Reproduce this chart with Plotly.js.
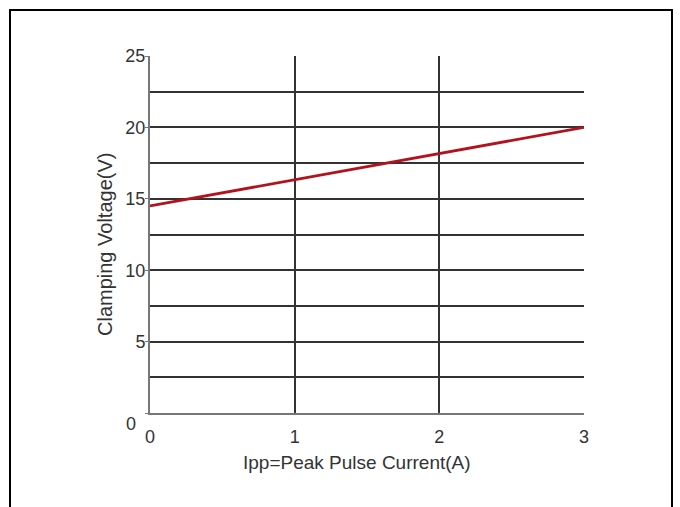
<!DOCTYPE html>
<html>
<head>
<meta charset="utf-8">
<script src="https://cdn.plot.ly/plotly-3.0.1.min.js"></script>
<style>
html,body{margin:0;padding:0;background:#fff;}
#wrap{position:relative;width:680px;height:507px;overflow:hidden;}
#chart{width:680px;height:507px;}
#frame{position:absolute;left:9px;top:9px;width:660px;height:520px;border:2px solid #000;pointer-events:none;}
</style>
</head>
<body>
<div id="wrap"><div id="chart"></div><div id="frame"></div></div>
<script>
const currentA = [0, 1, 2, 3];
const clampV = [14.5, 16.35, 18.15, 20];
const xTicks = [0, 1, 2, 3];
const yTicks = [0, 5, 10, 15, 20, 25];
const yTickText = ['', '5', '10', '15', '20', '25'];
const yMinor = [2.5, 7.5, 12.5, 17.5, 22.5];
const xTitle = 'Ipp=Peak Pulse Current(A)';
const yTitle = 'Clamping Voltage(V)';

const trace = {
  x: currentA, y: clampV, type: 'scatter', mode: 'lines',
  line: {color: '#b3121d', width: 2.8}, hoverinfo: 'skip'
};

const gridCol = '#333';
const layout = {
  width: 680, height: 507,
  margin: {l: 150, r: 96, t: 56, b: 94},
  paper_bgcolor: '#fff', plot_bgcolor: '#fff',
  showlegend: false,
  font: {family: 'Liberation Sans, Arial, sans-serif', color: '#333', size: 18},
  xaxis: {
    range: [0, 3], tickvals: xTicks, ticktext: xTicks.map(String),
    showgrid: true, gridcolor: gridCol, gridwidth: 2,
    showline: true, linecolor: '#777', linewidth: 2, mirror: false,
    zeroline: false, ticks: '', ticklabelstandoff: 6,
    tickfont: {size: 18, color: '#333'},
    fixedrange: true
  },
  yaxis: {
    range: [0, 25], tickvals: yTicks, ticktext: yTickText,
    showgrid: true, gridcolor: gridCol, gridwidth: 2,
    showline: true, linecolor: '#777', linewidth: 2,
    zeroline: false, ticks: 'outside', ticklen: 3, tickcolor: '#777',
    ticklabelstandoff: -4,
    tickfont: {size: 18, color: '#333'},
    minor: {tickvals: yMinor, showgrid: true, gridcolor: gridCol, gridwidth: 2, ticks: ''},
    fixedrange: true
  },
  annotations: [
    {text: xTitle, xref: 'paper', yref: 'paper', x: 0.477, y: -0.14, xanchor: 'center', yanchor: 'middle',
     showarrow: false, font: {size: 19, color: '#333'}},
    {text: yTitle, xref: 'paper', yref: 'paper', x: -0.104, y: 0.473, xanchor: 'center', yanchor: 'middle',
     textangle: -90, showarrow: false, font: {size: 20, color: '#333'}},
    {text: '0', xref: 'paper', yref: 'paper', x: -0.044, y: -0.032, xanchor: 'center', yanchor: 'middle',
     showarrow: false, font: {size: 18, color: '#333'}}
  ]
};

Plotly.newPlot('chart', [trace], layout, {staticPlot: true, displayModeBar: false});
</script>
</body>
</html>
